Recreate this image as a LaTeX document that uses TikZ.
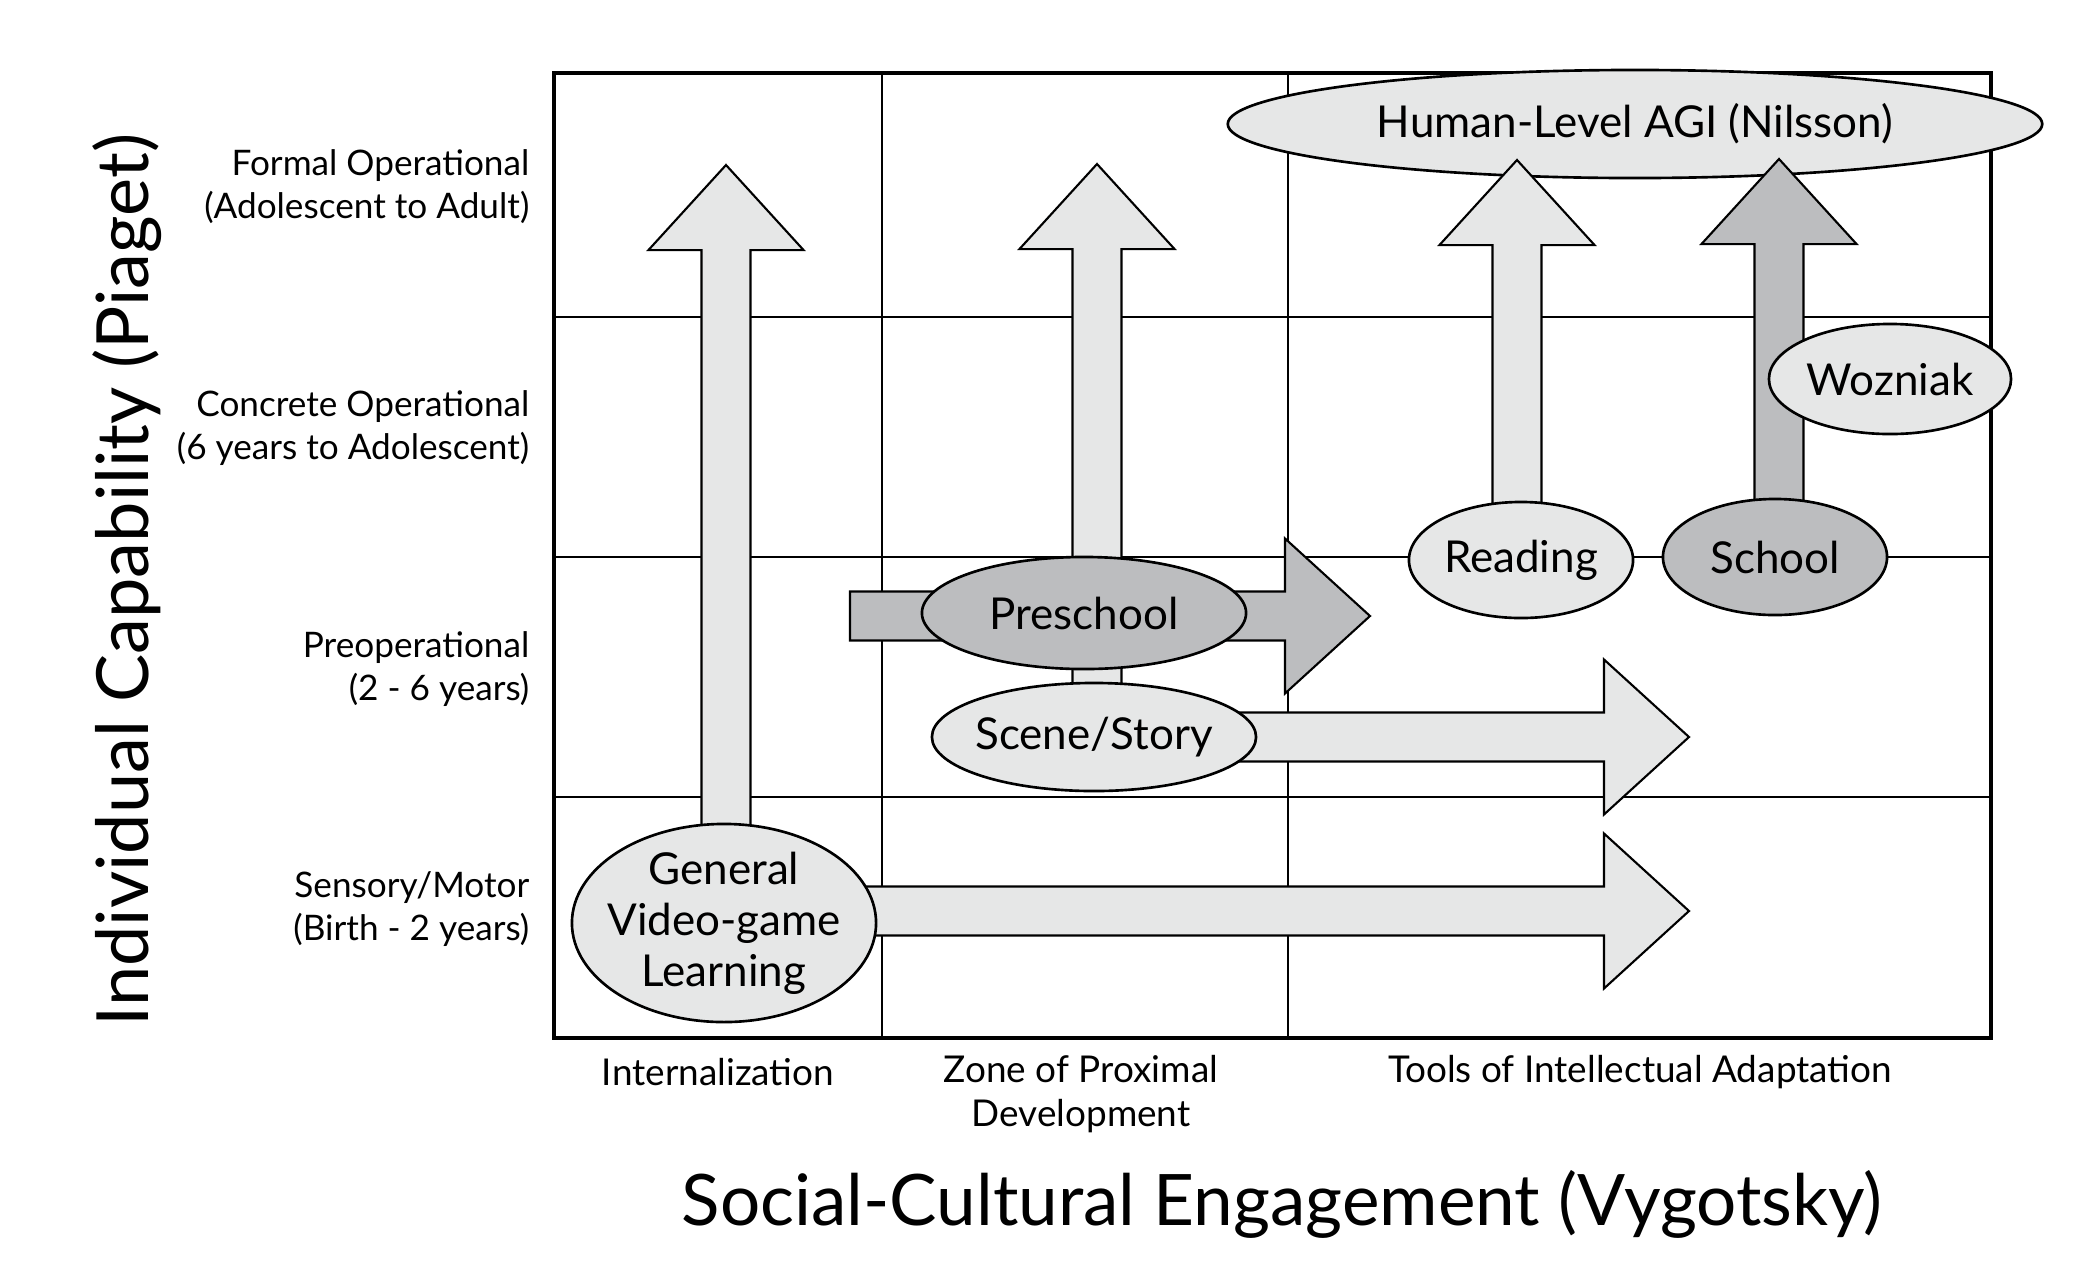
\documentclass[tikz,border=0pt]{standalone}
\usepackage{fontspec}
\setmainfont{Lato}
\usepackage{tikz}
\usetikzlibrary{shapes.geometric, calc}
\definecolor{paleshade}{RGB}{230,231,231}
\definecolor{darkshade}{RGB}{188,189,191}

\def\shaftw{0.245cm}
\def\headw{0.775cm}
\def\headl{0.85cm}
% block arrow pointing up, from a node to a tip
\newcommand{\vblock}[3]{%
  \draw[blockarrow, fill=#3] let \p1=(#1), \p2=(#2) in
    (\x2-\shaftw,\y1) -- (\x2-\shaftw,\y2-\headl) -- (\x2-\headw,\y2-\headl) -- (\p2)
    -- (\x2+\headw,\y2-\headl) -- (\x2+\shaftw,\y2-\headl) -- (\x2+\shaftw,\y1) -- cycle;}
% block arrow pointing right, from a node to a tip
\newcommand{\hblock}[3]{%
  \draw[blockarrow, fill=#3] let \p1=(#1), \p2=(#2) in
    (\x1,\y2+\shaftw) -- (\x2-\headl,\y2+\shaftw) -- (\x2-\headl,\y2+\headw) -- (\p2)
    -- (\x2-\headl,\y2-\headw) -- (\x2-\headl,\y2-\shaftw) -- (\x1,\y2-\shaftw) -- cycle;}

\begin{document}
\begin{tikzpicture}[
    x=0.01cm, y=-0.01cm,
    gridline/.style={line width=0.75pt},
    frameline/.style={line width=1.2pt},
    blockarrow/.style={line width=0.6pt, line join=miter},
    stage/.style={ellipse, draw, line width=0.75pt, fill=paleshade, inner sep=0pt,
                  align=center, font=\fontsize{12.5}{14.5}\selectfont},
    darkstage/.style={stage, fill=darkshade},
    rowlabel/.style={anchor=east, align=right, inner sep=0pt, font=\fontsize{10}{12.2}\selectfont},
    collabel/.style={align=center, font=\fontsize{10.5}{12.5}\selectfont},
]
    \useasboundingbox (0,0) rectangle (2090,1278);

    % grid
    \draw[gridline] (882,73) -- (882,1038) (1288,73) -- (1288,1038);
    \draw[gridline] (554,317) -- (1991,317) (554,557) -- (1991,557) (554,797) -- (1991,797);
    \draw[frameline] (554,73) rectangle (1991,1038);

    \node[stage, minimum width=8.14cm, minimum height=1.08cm] (agi) at (1635,124) {Human-Level AGI (Nilsson)};

    % tips of the block arrows
    \coordinate (tipgen) at (726,165);
    \coordinate (tipzpd) at (1097,164);
    \coordinate (tipread) at (1517,160);
    \coordinate (tipschool) at (1779,159);
    \coordinate (tippre) at (1370,616);
    \coordinate (tipscene) at (1689,737);
    \coordinate (tipgenr) at (1689,911);
    \coordinate (prestart) at (850,616);

    % centres of the stages
    \coordinate (cgen) at (724,923);
    \coordinate (cscene) at (1094,737);
    \coordinate (cread) at (1521,560);
    \coordinate (cschool) at (1775,557);

    \vblock{cgen}{tipgen}{paleshade}
    \vblock{cscene}{tipzpd}{paleshade}
    \vblock{cread}{tipread}{paleshade}
    \vblock{cschool}{tipschool}{darkshade}
    \hblock{prestart}{tippre}{darkshade}
    \hblock{cscene}{tipscene}{paleshade}
    \hblock{cgen}{tipgenr}{paleshade}

    % stages
    \node[darkstage, minimum width=3.24cm, minimum height=1.12cm] (preschool) at (1084,613) {Preschool};
    \node[stage, inner sep=-1.5pt, minimum width=3.24cm, minimum height=1.08cm] (scene) at (cscene) {Scene/Story};
    \node[stage, inner sep=-4pt, minimum width=3.04cm, minimum height=1.98cm] (general) at (cgen) {General\\Video-game\\Learning};
    \node[stage, minimum width=2.24cm, minimum height=1.16cm] (reading) at (cread) {Reading};
    \node[darkstage, minimum width=2.24cm, minimum height=1.16cm] (school) at (cschool) {School};
    \node[stage, minimum width=2.42cm, minimum height=1.10cm] (wozniak) at (1890,379) {Wozniak};

    % Piaget stages
    \node[rowlabel] (formal) at (530,187) {Formal Operational\\(Adolescent to Adult)};
    \node[rowlabel] (concrete) at (530,428) {Concrete Operational\\(6 years to Adolescent)};
    \node[rowlabel] (preop) at (530,669) {Preoperational\\(2 - 6 years)};
    \node[rowlabel] (sensory) at (530,909) {Sensory/Motor\\(Birth - 2 years)};

    % Vygotsky columns
    \node[collabel] (intern) at (718,1072) {Internalization};
    \node[collabel] (zpd) at (1081,1094) {Zone of Proximal\\Development};
    \node[collabel] (tools) at (1640,1072) {Tools of Intellectual Adaptation};

    % axis titles
    \node[rotate=90, font=\fontsize{20.5}{23}\selectfont] (piaget) at (127,580) {Individual Capability (Piaget)};
    \node[font=\fontsize{20.2}{23}\selectfont] (vygotsky) at (1282,1204) {Social-Cultural Engagement (Vygotsky)};
\end{tikzpicture}
\end{document}
